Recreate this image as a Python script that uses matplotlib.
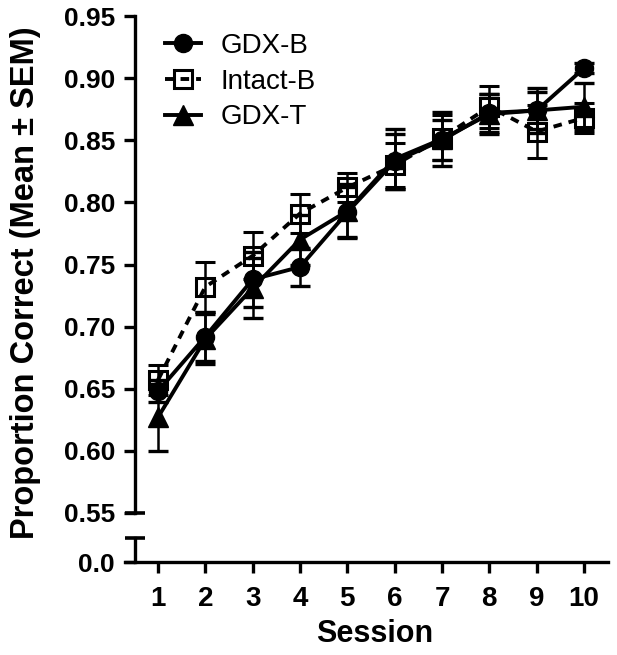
import numpy as np
import matplotlib
matplotlib.use("Agg")
import matplotlib.pyplot as plt
import matplotlib.transforms as mtransforms

plt.rcParams.update({
    "font.family": ["Liberation Sans", "DejaVu Sans"],
    "axes.linewidth": 2.4,
})

sessions = np.arange(1, 11)
gdx_b = [0.648, 0.692, 0.738, 0.748, 0.792, 0.833, 0.850, 0.872, 0.874, 0.908]
gdx_b_sem = [0.009, 0.020, 0.022, 0.015, 0.020, 0.022, 0.016, 0.015, 0.018, 0.004]
intact_b = [0.657, 0.732, 0.757, 0.791, 0.812, 0.830, 0.852, 0.877, 0.857, 0.868]
intact_b_sem = [0.012, 0.020, 0.019, 0.016, 0.012, 0.018, 0.018, 0.017, 0.021, 0.012]
gdx_t = [0.627, 0.690, 0.731, 0.770, 0.793, 0.835, 0.851, 0.871, 0.874, 0.877]
gdx_t_sem = [0.027, 0.020, 0.024, 0.020, 0.022, 0.024, 0.022, 0.016, 0.015, 0.019]
yticks = [0.55, 0.60, 0.65, 0.70, 0.75, 0.80, 0.85, 0.90, 0.95]

W, H = 617, 655
fig = plt.figure(figsize=(W / 100, H / 100), dpi=100)
left_px, right_px = 125, 608
ax = fig.add_axes([left_px / W, 1 - 513 / H, (right_px - left_px) / W, (513 - 16) / H])
axb = fig.add_axes([left_px / W, 1 - 562 / H, (right_px - left_px) / W, (562 - 538) / H], sharex=ax)

spine_x = (134.5 - left_px) / (right_px - left_px)
x0 = 1 - 33 / 47.4
x1 = 10 + 24 / 47.4

series = [
    (intact_b, intact_b_sem, "Intact-B", dict(marker="s", ms=13, mfc="none", mew=2.2,
                                              ls=(0, (2.2, 1.8)))),
    (gdx_t, gdx_t_sem, "GDX-T", dict(marker="^", ms=14, mfc="black", ls="-")),
    (gdx_b, gdx_b_sem, "GDX-B", dict(marker="o", ms=13, mfc="black", ls="-")),
]
handles = {}
for i, (m, s, lab, kw) in enumerate(series):
    c = ax.errorbar(sessions, m, yerr=s, color="black", lw=2.8, elinewidth=1.8,
                    capsize=7, capthick=2.4, label=lab, zorder=3 + i, clip_on=False, **kw)
    handles[lab] = c[0]

ax.set_xlim(x0, x1)
ax.set_ylim(0.55, 0.95)
ax.set_yticks(yticks)
ax.set_yticklabels([f"{v:.2f}" for v in yticks])
for s in ("top", "right", "bottom"):
    ax.spines[s].set_visible(False)
ax.spines["left"].set_position(("axes", spine_x))
ax.tick_params(axis="x", bottom=False, labelbottom=False)
ax.tick_params(axis="y", direction="out", length=8, width=2.4, pad=6, labelsize=19)
for t in ax.get_yticklabels():
    t.set_fontweight("bold")

# break caps
trans = mtransforms.blended_transform_factory(ax.transAxes, ax.transData)
ax.plot([spine_x], [0.55], marker="_", ms=15, mew=2.6, color="black",
        transform=trans, clip_on=False)

axb.set_ylim(0, 0.05)
axb.set_yticks([0])
axb.set_yticklabels(["0.0"])
for s in ("top", "right"):
    axb.spines[s].set_visible(False)
axb.spines["left"].set_position(("axes", spine_x))
axb.set_xticks(sessions)
axb.tick_params(axis="x", direction="out", length=8, width=2.4, pad=9, labelsize=20)
axb.tick_params(axis="y", direction="out", length=8, width=2.4, pad=6, labelsize=19)
for t in axb.get_xticklabels() + axb.get_yticklabels():
    t.set_fontweight("bold")
transb = mtransforms.blended_transform_factory(axb.transAxes, axb.transData)
axb.plot([spine_x], [0.05], marker="_", ms=15, mew=2.6, color="black",
         transform=transb, clip_on=False)

fig.text(375 / W, 1 - 634 / H, "Session", ha="center", va="center",
         fontsize=22, fontweight="bold")
fig.text(26 / W, 1 - 283 / H, "Proportion Correct (Mean \u00b1 SEM)", ha="center",
         va="center", rotation=90, fontsize=23.5, fontweight="bold")

leg = ax.legend(handles=[handles["GDX-B"], handles["Intact-B"], handles["GDX-T"]],
                labels=["GDX-B", "Intact-B", "GDX-T"],
                loc="upper left", bbox_to_anchor=((165 - left_px) / (right_px - left_px), (513 - 33) / 497),
                frameon=False, fontsize=20, handlelength=1.3, handletextpad=0.7,
                borderaxespad=0, borderpad=0, labelspacing=0.35)

fig.savefig("out.png", dpi=100)
